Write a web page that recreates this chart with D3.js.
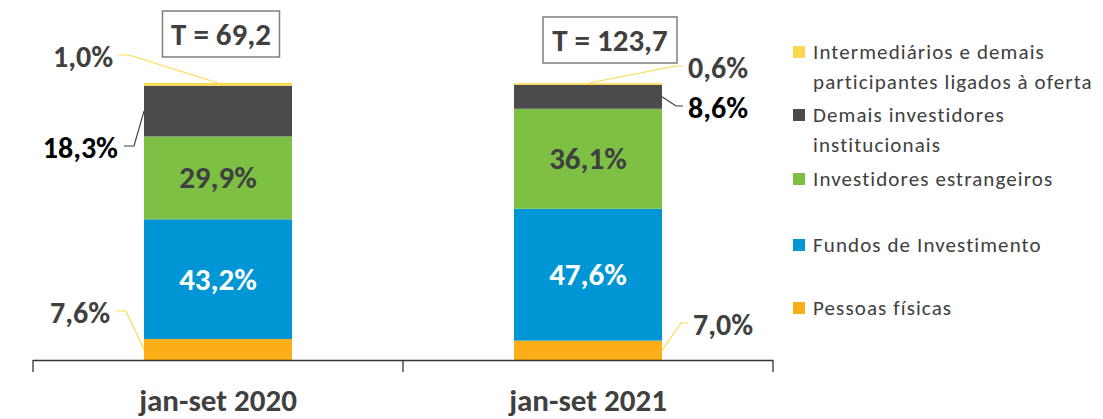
<!DOCTYPE html>
<html>
<head>
<meta charset="utf-8">
<script src="https://cdn.jsdelivr.net/npm/d3@7"></script>
<style>
  body { margin: 0; background: #fff; }
  text { font-family: Carlito, Calibri, "Open Sans", sans-serif; }
</style>
</head>
<body>
<svg id="chart" width="1103" height="419"></svg>
<script>
/*
******************************** DATA ********************************
*/
var categories = ["jan-set 2020", "jan-set 2021"];
var totals = [69.2, 123.7];

// shares (%) from bottom of the stack to the top
var pessoas = [7.6, 7.0];
var fundos = [43.2, 47.6];
var estrangeiros = [29.9, 36.1];
var demais = [18.3, 8.6];
var intermediarios = [1.0, 0.6];

var seriesNames = [
    "Pessoas físicas",
    "Fundos de Investimento",
    "Investidores estrangeiros",
    "Demais investidores institucionais",
    "Intermediários e demais participantes ligados à oferta"
];
var seriesValues = [pessoas, fundos, estrangeiros, demais, intermediarios];
var colors = ["#FBAE17", "#0096D6", "#7EC043", "#4B4B4D", "#FDD84C"];

/*
******************************** SETUP ********************************
*/
var svg = d3.select("#chart"),
    baseY = 360,
    topY = 83;

var rows = categories.map(function (c, i) {
    var r = { cat: c };
    seriesNames.forEach(function (s, j) { r[s] = seriesValues[j][i]; });
    return r;
});

var stacked = d3.stack().keys(seriesNames)(rows);

var x = d3.scaleBand()
    .domain(categories)
    .range([33, 773])
    .paddingInner(0.6)
    .paddingOuter(0.3);

var y = d3.scaleLinear().domain([0, 100]).range([baseY, topY]);

var fmt = function (v) { return d3.format(".1f")(v).replace(".", ",") + "%"; };

/*
******************************** BARS ********************************
*/
var layers = svg.append("g").selectAll("g")
    .data(stacked)
    .enter().append("g")
    .attr("fill", function (d, i) { return colors[i]; });

layers.selectAll("rect")
    .data(function (d) { return d; })
    .enter().append("rect")
    .attr("x", function (d) { return x(d.data.cat); })
    .attr("width", x.bandwidth())
    .attr("y", function (d) { return y(d[1]); })
    .attr("height", function (d) { return y(d[0]) - y(d[1]); });

// axis: a plain line with ticks at the band edges
var step = x.step();
var tickXs = [x.range()[0], x.range()[0] + step, x.range()[1]];
svg.append("line")
    .attr("x1", x.range()[0]).attr("x2", x.range()[1])
    .attr("y1", baseY + 0.5).attr("y2", baseY + 0.5)
    .attr("stroke", "#333").attr("stroke-width", 1.3);
svg.selectAll(".tick")
    .data(tickXs).enter().append("line")
    .attr("x1", function (d) { return d; }).attr("x2", function (d) { return d; })
    .attr("y1", baseY).attr("y2", baseY + 12)
    .attr("stroke", "#333").attr("stroke-width", 1.3);

svg.selectAll(".cat")
    .data(categories).enter().append("text")
    .attr("x", function (d) { return x(d) + x.bandwidth() / 2; })
    .attr("y", 411)
    .attr("text-anchor", "middle")
    .attr("font-size", 31).attr("font-weight", "bold")
    .attr("fill", "#404040")
    .text(function (d) { return d; });

/*
******************************** LABELS ********************************
*/
// inside labels (fundos and estrangeiros)
[[1, "#fff"], [2, "#404040"]].forEach(function (p) {
    svg.append("g").selectAll("text")
        .data(stacked[p[0]])
        .enter().append("text")
        .attr("x", function (d) { return x(d.data.cat) + x.bandwidth() / 2; })
        .attr("y", function (d) { return (y(d[0]) + y(d[1])) / 2; })
        .attr("dy", "0.34em")
        .attr("text-anchor", "middle")
        .attr("font-size", 31).attr("font-weight", "bold")
        .attr("fill", p[1])
        .text(function (d) { return fmt(d.data[seriesNames[p[0]]]); });
});

// outside labels with leader lines: series index, bar index, text position
var outside = [
    { s: 4, b: 0, tx: 113, ty: 57, where: "center", color: "#404040", line: "#FDD84C" },
    { s: 3, b: 0, tx: 118, ty: 148, where: "left", color: "#000", line: "#404040" },
    { s: 0, b: 0, tx: 110, ty: 313, where: "left", color: "#404040", line: "#FDD84C" },
    { s: 4, b: 1, tx: 688, ty: 68, where: "center", color: "#404040", line: "#FDD84C" },
    { s: 3, b: 1, tx: 688, ty: 108, where: "right", color: "#000", line: "#404040" },
    { s: 0, b: 1, tx: 693, ty: 325, where: "right", color: "#404040", line: "#FDD84C" }
];

outside.forEach(function (o) {
    var seg = stacked[o.s][o.b];
    var left = o.b === 0;
    var ax, ay;
    if (o.where === "center") {
        ax = x(categories[o.b]) + x.bandwidth() / 2;
        ay = y(seg[1]);
    } else {
        ax = o.where === "left" ? x(categories[o.b]) : x(categories[o.b]) + x.bandwidth();
        ay = (y(seg[0]) + y(seg[1])) / 2;
    }
    var ex = left ? o.tx + 16 : o.tx - 12,
        sx = left ? o.tx + 6 : o.tx - 5,
        ly = o.ty - 2;
    svg.append("polyline")
        .attr("points", [[sx, ly], [ex, ly], [ax, ay]].join(" "))
        .attr("fill", "none")
        .attr("stroke", o.line).attr("stroke-width", 1.2);
    svg.append("text")
        .attr("x", o.tx).attr("y", o.ty)
        .attr("dy", "0.34em")
        .attr("text-anchor", left ? "end" : "start")
        .attr("font-size", 30).attr("font-weight", "bold")
        .attr("fill", o.color)
        .text(fmt(seriesValues[o.s][o.b]));
});

// totals boxes
var boxes = [{ cx: 221, cy: 34, w: 117 }, { cx: 610, cy: 40, w: 134 }];
totals.forEach(function (t, i) {
    var bx = boxes[i];
    svg.append("rect")
        .attr("x", bx.cx - bx.w / 2).attr("y", bx.cy - 23)
        .attr("width", bx.w).attr("height", 46)
        .attr("fill", "#fff").attr("stroke", "#7f7f7f").attr("stroke-width", 1.5);
    svg.append("text")
        .attr("x", bx.cx).attr("y", bx.cy).attr("dy", "0.34em")
        .attr("text-anchor", "middle")
        .attr("font-size", 31).attr("font-weight", "bold")
        .attr("fill", "#404040")
        .text("T = " + d3.format(".1f")(t).replace(".", ","));
});

/*
******************************** LEGEND ********************************
*/
var legendLines = [
    ["Intermediários e demais", "participantes ligados à oferta"],
    ["Demais investidores", "institucionais"],
    ["Investidores estrangeiros"],
    ["Fundos de Investimento"],
    ["Pessoas físicas"]
];
var legendY = [52, 115, 179, 245, 308];
var legendColors = colors.slice().reverse();

var legend = svg.append("g").attr("transform", "translate(793,0)");
legendLines.forEach(function (lines, i) {
    legend.append("rect")
        .attr("x", 0).attr("y", legendY[i] - 6)
        .attr("width", 12).attr("height", 12)
        .attr("fill", legendColors[i]);
    lines.forEach(function (l, k) {
        legend.append("text")
            .attr("x", 20).attr("y", legendY[i] + k * 30)
            .attr("dy", "0.35em")
            .attr("font-size", 21)
            .attr("letter-spacing", 1.1)
            .attr("fill", "#404040")
            .text(l);
    });
});
</script>
</body>
</html>
